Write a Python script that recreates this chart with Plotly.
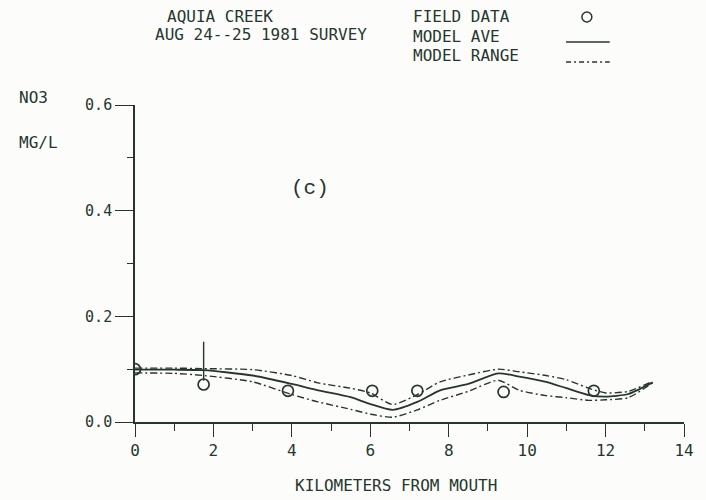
import plotly.graph_objects as go

# ---- data ----
field_x = [0.0, 1.75, 3.9, 6.05, 7.2, 9.4, 11.7]
field_y = [0.100, 0.071, 0.059, 0.059, 0.059, 0.057, 0.059]

bar_x = [1.75, 1.75]
bar_y = [0.152, 0.078]

model_x = [0.0, 1.0, 1.75, 3.0, 4.0, 4.67, 5.5, 6.0, 6.57, 7.2, 7.78, 8.5, 9.26,
           9.8, 10.48, 11.0, 11.57, 12.0, 12.58, 13.2]
model_ave = [0.099, 0.099, 0.098, 0.088, 0.072, 0.060, 0.047, 0.034, 0.023, 0.038,
             0.060, 0.072, 0.092, 0.086, 0.076, 0.064, 0.051, 0.048, 0.053, 0.075]
model_hi = [0.102, 0.102, 0.101, 0.099, 0.088, 0.074, 0.064, 0.055, 0.033, 0.052,
            0.076, 0.089, 0.100, 0.095, 0.088, 0.080, 0.064, 0.055, 0.058, 0.077]
model_lo = [0.093, 0.092, 0.088, 0.076, 0.052, 0.038, 0.024, 0.015, 0.009, 0.023,
            0.041, 0.058, 0.079, 0.060, 0.050, 0.046, 0.041, 0.042, 0.046, 0.074]

x_ticks = [0, 2, 4, 6, 8, 10, 12, 14]
y_ticks = [0.0, 0.2, 0.4, 0.6]
y_tick_text = ["0.0", "0.2", "0.4", "0.6"]

INK = "#26362f"
FONT = "DejaVu Sans Mono"
SERIF_MONO = "Liberation Mono"

W, H = 706, 500
L, R, T, B = 135, 17, 105, 78


def px(xp):
    return (xp - L) / (W - L - R)


def py(yp):
    return (H - B - yp) / (H - T - B)


fig = go.Figure()

fig.add_trace(go.Scatter(x=model_x, y=model_hi, mode="lines",
                         line=dict(color=INK, width=1.4, dash="7px,3px,2px,3px",
                                   shape="spline", smoothing=0.6),
                         showlegend=False, hoverinfo="skip"))
fig.add_trace(go.Scatter(x=model_x, y=model_lo, mode="lines",
                         line=dict(color=INK, width=1.4, dash="7px,3px,2px,3px",
                                   shape="spline", smoothing=0.6),
                         showlegend=False, hoverinfo="skip"))
fig.add_trace(go.Scatter(x=model_x, y=model_ave, mode="lines",
                         line=dict(color=INK, width=1.8, shape="spline", smoothing=0.6),
                         showlegend=False, hoverinfo="skip"))
fig.add_trace(go.Scatter(x=bar_x, y=bar_y, mode="lines",
                         line=dict(color=INK, width=1.4),
                         showlegend=False, hoverinfo="skip"))
fig.add_trace(go.Scatter(x=field_x, y=field_y, mode="markers",
                         marker=dict(symbol="circle-open", size=11, color=INK,
                                     line=dict(color=INK, width=1.7)),
                         showlegend=False, hoverinfo="skip"))

fig.update_layout(
    width=W, height=H,
    margin=dict(l=L, r=R, t=T, b=B),
    paper_bgcolor="#fcfdfb", plot_bgcolor="#fcfdfb",
    font=dict(family=FONT, color=INK, size=15),
    xaxis=dict(range=[0, 14], tickvals=x_ticks, ticktext=[str(v) for v in x_ticks],
               showline=True, linecolor=INK, linewidth=1.6,
               ticks="outside", ticklen=13, tickwidth=1.4, tickcolor=INK,
               minor=dict(dtick=1, ticks="outside", ticklen=7, tickwidth=1.2, tickcolor=INK),
               showgrid=False, zeroline=False,
               tickfont=dict(family=FONT, size=16, color=INK)),
    yaxis=dict(range=[0, 0.6], tickvals=y_ticks, ticktext=y_tick_text,
               showline=True, linecolor=INK, linewidth=1.6,
               ticks="outside", ticklen=18, tickwidth=1.4, tickcolor=INK,
               minor=dict(dtick=0.1, ticks="outside", ticklen=6, tickwidth=1.2, tickcolor=INK),
               showgrid=False, zeroline=False,
               tickfont=dict(family=FONT, size=15, color=INK)),
)

annos = [
    ("AQUIA CREEK", 165, 17),
    ("AUG 24--25 1981 SURVEY", 153, 34),
    ("FIELD DATA", 414, 17),
    ("MODEL AVE", 414, 36),
    ("MODEL RANGE", 414, 55),
    ("NO3", 16, 98),
    ("MG/L", 16, 142),
]
for text, xp, yp in annos:
    fig.add_annotation(text=text, xref="paper", yref="paper", x=px(xp), y=py(yp),
                       xanchor="left", yanchor="middle", showarrow=False,
                       font=dict(family=FONT, size=16, color=INK))

fig.add_annotation(text="KILOMETERS FROM MOUTH", xref="paper", yref="paper",
                   x=px(398), y=py(485), xanchor="center", yanchor="middle",
                   showarrow=False, font=dict(family=FONT, size=16, color=INK))
fig.add_annotation(text="(c)", xref="paper", yref="paper",
                   x=px(312), y=py(188), xanchor="center", yanchor="middle",
                   showarrow=False, font=dict(family=SERIF_MONO, size=21, color=INK))

# legend symbols
fig.add_shape(type="circle", xref="paper", yref="paper",
              x0=px(586), x1=px(596), y0=py(22), y1=py(12),
              line=dict(color=INK, width=1.5))
fig.add_shape(type="line", xref="paper", yref="paper",
              x0=px(570), x1=px(614), y0=py(42), y1=py(42),
              line=dict(color=INK, width=1.6))
fig.add_shape(type="line", xref="paper", yref="paper",
              x0=px(570), x1=px(614), y0=py(62), y1=py(62),
              line=dict(color=INK, width=1.3, dash="5px,3px,2px,3px"))

fig.write_html("out.html")
